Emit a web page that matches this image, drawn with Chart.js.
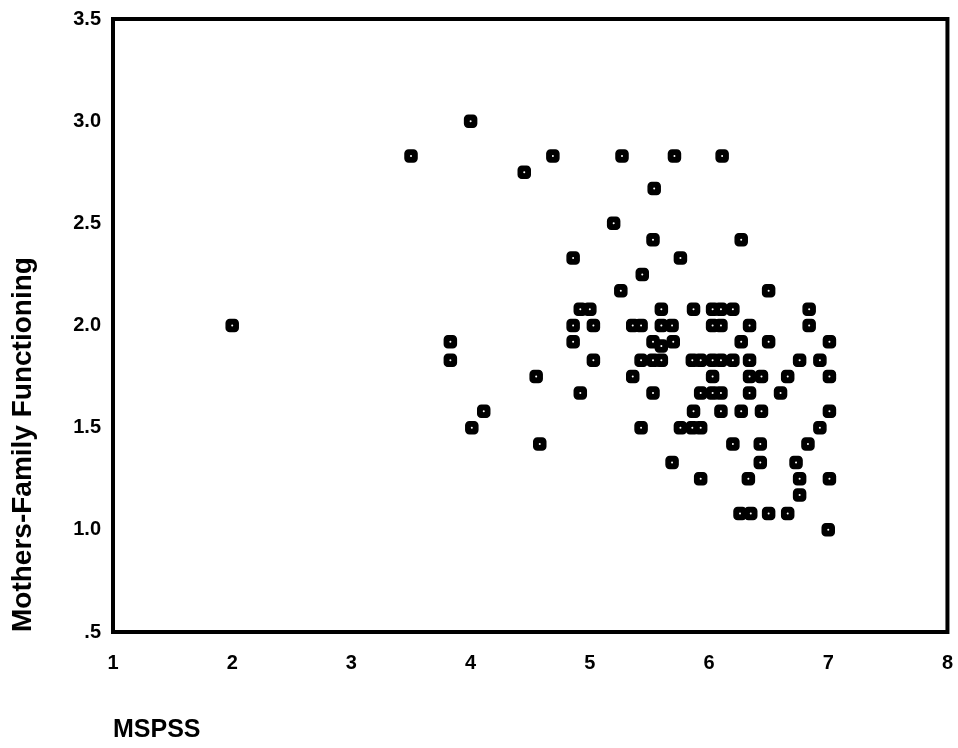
<!DOCTYPE html>
<html>
<head>
<meta charset="utf-8">
<script src="https://cdn.jsdelivr.net/npm/chart.js@4.4.1/dist/chart.umd.min.js"></script>
<style>
  html, body { margin: 0; padding: 0; background: #fff; }
  #wrap { width: 958px; height: 748px; }
</style>
</head>
<body>
<div id="wrap"><canvas id="scatter"></canvas></div>
<script>
// MSPSS (x) and Mothers-Family Functioning (y)
const mspss = [
    4.0,
    3.5, 4.69, 5.27, 5.71, 6.11,
    4.45,
    5.54,
    5.2,
    5.53, 6.27,
    4.86, 5.76,
    5.44,
    5.26, 6.5,
    4.92, 5.0, 5.6, 5.87, 6.03, 6.1, 6.2, 6.84,
    2.0, 4.86, 5.03, 5.36, 5.43, 5.6, 5.69, 6.03, 6.1, 6.34, 6.84,
    3.83, 4.86, 5.53, 5.6, 5.7, 6.27, 6.5, 7.01,
    3.83, 5.03, 5.43, 5.53, 5.6, 5.86, 5.93, 6.03, 6.1, 6.2, 6.34, 6.76, 6.93,
    4.55, 5.36, 6.03, 6.34, 6.44, 6.66, 7.01,
    4.92, 5.53, 5.93, 6.03, 6.1, 6.34, 6.6,
    4.11, 5.87, 6.1, 6.27, 6.44, 7.01,
    4.01, 5.43, 5.76, 5.86, 5.93, 6.93,
    4.58, 6.2, 6.43, 6.83,
    5.69, 6.43, 6.73,
    5.93, 6.33, 6.76, 7.01,
    6.76,
    6.26, 6.35, 6.5, 6.66,
    7.0
];
const familyFunctioning = [
    3.0,
    2.83, 2.83, 2.83, 2.83, 2.83,
    2.75,
    2.67,
    2.5,
    2.42, 2.42,
    2.33, 2.33,
    2.25,
    2.17, 2.17,
    2.08, 2.08, 2.08, 2.08, 2.08, 2.08, 2.08, 2.08,
    2.0, 2.0, 2.0, 2.0, 2.0, 2.0, 2.0, 2.0, 2.0, 2.0, 2.0,
    1.92, 1.92, 1.92, 1.9, 1.92, 1.92, 1.92, 1.92,
    1.83, 1.83, 1.83, 1.83, 1.83, 1.83, 1.83, 1.83, 1.83, 1.83, 1.83, 1.83, 1.83,
    1.75, 1.75, 1.75, 1.75, 1.75, 1.75, 1.75,
    1.67, 1.67, 1.67, 1.67, 1.67, 1.67, 1.67,
    1.58, 1.58, 1.58, 1.58, 1.58, 1.58,
    1.5, 1.5, 1.5, 1.5, 1.5, 1.5,
    1.42, 1.42, 1.42, 1.42,
    1.33, 1.33, 1.33,
    1.25, 1.25, 1.25, 1.25,
    1.17,
    1.08, 1.08, 1.08, 1.08,
    1.0
];
const xTicks = [1, 2, 3, 4, 5, 6, 7, 8];
const yTicks = [0.5, 1.0, 1.5, 2.0, 2.5, 3.0, 3.5];

const points = mspss.map((x, i) => ({ x: x, y: familyFunctioning[i] }));

// thick box around the plot area
const frame = {
    id: 'frame',
    beforeDatasetsDraw(chart) {
        const a = chart.chartArea;
        const ctx = chart.ctx;
        ctx.save();
        ctx.strokeStyle = '#000';
        ctx.lineWidth = 4;
        ctx.strokeRect(a.left, a.top, a.right - a.left, a.bottom - a.top);
        ctx.restore();
    }
};

const fontFamily = 'Liberation Sans, Arial, sans-serif';

new Chart(document.getElementById('scatter'), {
    type: 'scatter',
    data: {
        datasets: [{
            // small white dot in the middle of each marker (drawn on top)
            data: points,
            order: 0,
            pointStyle: 'circle',
            pointRadius: 1,
            backgroundColor: '#fff',
            borderWidth: 0
        }, {
            data: points,
            order: 1,
            pointStyle: 'rectRounded',
            pointRadius: 7,
            backgroundColor: '#000',
            borderColor: '#000',
            borderWidth: 1.5
        }]
    },
    options: {
        responsive: true,
        maintainAspectRatio: false,
        animation: false,
        layout: { padding: { top: 0, right: 0, left: 0, bottom: 0 } },
        plugins: {
            legend: { display: false },
            tooltip: { enabled: false }
        },
        scales: {
            x: {
                type: 'linear',
                min: 1,
                max: 8,
                afterBuildTicks: (s) => { s.ticks = xTicks.map(v => ({ value: v })); },
                afterFit: (s) => { s.height = 116; },
                grid: { display: false, drawTicks: false },
                border: { display: false },
                // tall line height pushes the labels down without widening the side padding
                ticks: {
                    color: '#000',
                    font: { family: fontFamily, size: 20, weight: 'bold', lineHeight: 2.6 },
                    padding: 5,
                    maxRotation: 0
                },
                title: {
                    display: true,
                    text: 'MSPSS',
                    align: 'start',
                    color: '#000',
                    font: { family: fontFamily, size: 25, weight: 'bold' },
                    padding: { top: 0, bottom: 3 }
                }
            },
            y: {
                type: 'linear',
                min: 0.5,
                max: 3.5,
                afterBuildTicks: (s) => { s.ticks = yTicks.map(v => ({ value: v })); },
                afterFit: (s) => { s.width = 113; },
                grid: { display: false, drawTicks: false },
                border: { display: false },
                ticks: {
                    color: '#000',
                    font: { family: fontFamily, size: 20, weight: 'bold', lineHeight: 0.7 },
                    padding: 12,
                    callback: (v) => v === 0.5 ? '.5' : v.toFixed(1)
                },
                title: {
                    display: true,
                    text: 'Mothers-Family Functioning',
                    align: 'start',
                    color: '#000',
                    font: { family: fontFamily, size: 28, weight: 'bold' },
                    padding: { top: 6, bottom: 0 }
                }
            }
        }
    },
    plugins: [frame]
});
</script>
</body>
</html>
